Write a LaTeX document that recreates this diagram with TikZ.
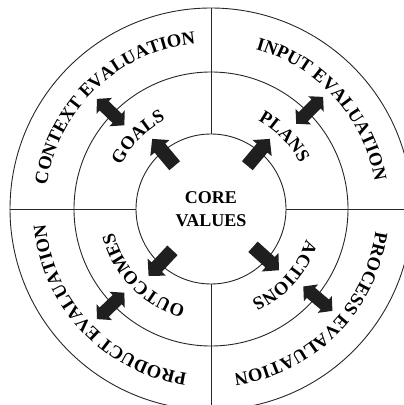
\documentclass[tikz,border=0pt]{standalone}
\usepackage{fontspec}
\setmainfont{Liberation Serif}
\usetikzlibrary{decorations.text,calc}
\begin{document}
\begin{tikzpicture}[x=1pt,y=1pt,
  ring/.style={circle,draw=black!85,line width=0.9pt,inner sep=0pt},
  divider/.style={draw=black!85,line width=0.9pt},
  arrowfill/.style={fill=black!88},
  arctext/.style={decorate,decoration={text along path,text align=center,text={|\fontsize{18.5}{18.5}\selectfont\bfseries|#1}}}
]
\useasboundingbox (0,0) rectangle (404,405);
\clip (0,0) rectangle (404,405);
\coordinate (C) at (211,196);
\node[ring,minimum size=402pt] (outer) at (C) {};
\node[ring,minimum size=274pt] (middle) at (C) {};
\node[ring,minimum size=150pt,align=center,font=\fontsize{18}{23}\selectfont\bfseries] (core) at (C) {CORE\\VALUES};
\draw[divider] (outer.north) -- (core.north);
\draw[divider] (outer.south) -- (core.south);
\draw[divider] (outer.west) -- (core.west);
\draw[divider] (outer.east) -- (core.east);
% outer ring labels
\path[arctext={CONTEXT EVALUATION}] ($(C)+(200:166)$) arc[start angle=200,end angle=67,radius=166];
\path[arctext={INPUT EVALUATION}] ($(C)+(110:166)$) arc[start angle=110,end angle=-26,radius=166];
\path[arctext={PROCESS EVALUATION}] ($(C)+(22:166)$) arc[start angle=22,end angle=-112,radius=166];
\path[arctext={PRODUCT EVALUATION}] ($(C)+(-70:166)$) arc[start angle=-70,end angle=-203,radius=166];
% middle ring labels
\path[arctext={GOALS}] ($(C)+(195:100)$) arc[start angle=195,end angle=76,radius=100];
\path[arctext={PLANS}] ($(C)+(104:100)$) arc[start angle=104,end angle=-15,radius=100];
\path[arctext={ACTIONS}] ($(C)+(18:100)$) arc[start angle=18,end angle=-102,radius=100];
\path[arctext={OUTCOMES}] ($(C)+(-75:100)$) arc[start angle=-75,end angle=-196,radius=100];
% single arrows (outward, across the core circle)
\foreach \ang/\nm in {130/ag,50/ap,-42/aa,-133/ao}{
  \fill[arrowfill,shift={($(C)+(\ang:74)$)},rotate=\ang]
    (-17.5,-7) -- (5.5,-7) -- (5.5,-12.5) -- (17.5,0) -- (5.5,12.5) -- (5.5,7) -- (-17.5,7) -- cycle;
}
% double arrows (across the middle circle)
\foreach \ang/\nm in {136/dg,45/dp,-40/da,-136/do}{
  \fill[arrowfill,shift={($(C)+(\ang:139.5)$)},rotate=\ang]
    (-19,0) -- (-9,11) -- (-9,6.5) -- (9,6.5) -- (9,11) -- (19,0) -- (9,-11) -- (9,-6.5) -- (-9,-6.5) -- (-9,-11) -- cycle;
}
\end{tikzpicture}
\end{document}
